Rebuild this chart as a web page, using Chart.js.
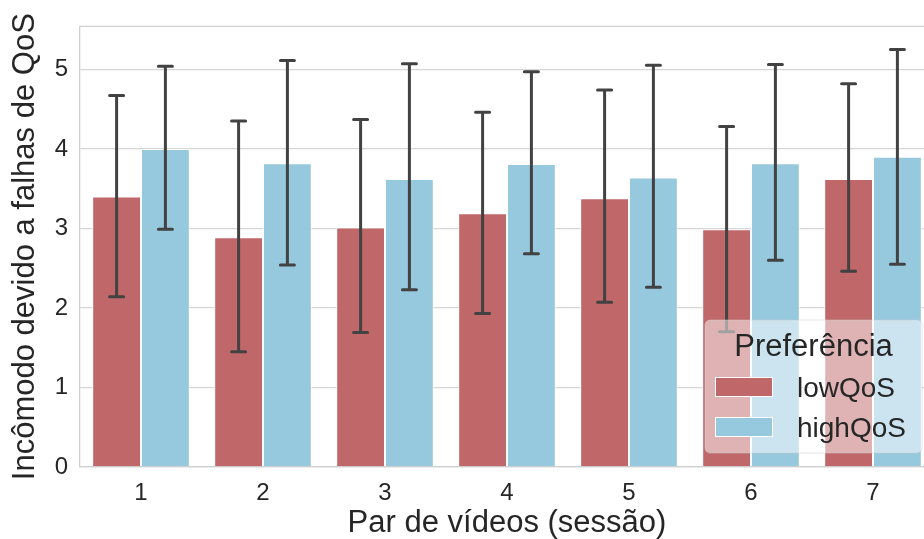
<!DOCTYPE html>
<html>
<head>
<meta charset="utf-8">
<script src="https://cdn.jsdelivr.net/npm/chart.js@4.4.1/dist/chart.umd.min.js"></script>
<style>
    html, body { margin: 0; padding: 0; background: #fff; overflow: hidden; }
    #wrap { position: relative; width: 934px; height: 539px; }
</style>
</head>
<body>
<div id="wrap"><canvas id="myChart"></canvas></div>
<script>
const sessions = ['1', '2', '3', '4', '5', '6', '7'];

const lowQoS  = [3.40, 2.89, 3.01, 3.19, 3.38, 2.99, 3.62];
const highQoS = [4.00, 3.82, 3.62, 3.81, 3.64, 3.82, 3.90];

// error bar ends (lower / upper)
const lowQoSMin  = [2.14, 1.45, 1.69, 1.93, 2.07, 1.70, 2.46];
const lowQoSMax  = [4.67, 4.35, 4.37, 4.46, 4.74, 4.28, 4.82];
const highQoSMin = [2.99, 2.54, 2.23, 2.68, 2.26, 2.60, 2.55];
const highQoSMax = [5.04, 5.11, 5.07, 4.97, 5.05, 5.06, 5.25];

const yTicks = [0, 1, 2, 3, 4, 5];

const legendTitle = 'Preferência';
const seriesNames = ['lowQoS', 'highQoS'];
const colors = ['#bf6769', '#96c8de'];

const FONT = '"Liberation Sans", Arial, sans-serif';
const TEXT = '#262626';

const errorBars = {
    id: 'errorBars',
    afterDatasetsDraw(chart) {
        const ctx = chart.ctx;
        const y = chart.scales.y;
        const ranges = [[lowQoSMin, lowQoSMax], [highQoSMin, highQoSMax]];
        ctx.save();
        ctx.strokeStyle = '#424242';
        ctx.lineWidth = 3;
        ranges.forEach((r, d) => {
            chart.getDatasetMeta(d).data.forEach((bar, i) => {
                const top = y.getPixelForValue(r[1][i]);
                const bot = y.getPixelForValue(r[0][i]);
                ctx.lineCap = 'butt';
                ctx.beginPath();
                ctx.moveTo(bar.x, top);
                ctx.lineTo(bar.x, bot);
                ctx.stroke();
                ctx.lineCap = 'round';
                ctx.beginPath();
                ctx.moveTo(bar.x - 7, top);
                ctx.lineTo(bar.x + 7, top);
                ctx.moveTo(bar.x - 7, bot);
                ctx.lineTo(bar.x + 7, bot);
                ctx.stroke();
            });
        });
        ctx.restore();
    }
};

const frameAndLegend = {
    id: 'frameAndLegend',
    beforeDatasetsDraw(chart) {
        const a = chart.chartArea;
        const ctx = chart.ctx;
        ctx.save();
        ctx.strokeStyle = '#cfcfcf';
        ctx.lineWidth = 1.3;
        ctx.beginPath();
        ctx.moveTo(a.left, a.top);
        ctx.lineTo(a.right, a.top);
        ctx.stroke();
        ctx.restore();
    },
    afterDraw(chart) {
        const ctx = chart.ctx;
        const bx = 705, by = 320, bw = 217, bh = 133;
        ctx.save();
        ctx.beginPath();
        ctx.roundRect(bx, by, bw, bh, 5);
        ctx.fillStyle = 'rgba(255,255,255,0.5)';
        ctx.fill();
        ctx.strokeStyle = 'rgba(204,204,204,0.5)';
        ctx.lineWidth = 1;
        ctx.stroke();

        ctx.fillStyle = TEXT;
        ctx.font = '31px ' + FONT;
        ctx.textAlign = 'center';
        ctx.textBaseline = 'alphabetic';
        ctx.fillText(legendTitle, bx + bw / 2, 356);

        ctx.font = '28px ' + FONT;
        ctx.textAlign = 'left';
        const rows = [377, 417];
        seriesNames.forEach((name, i) => {
            ctx.fillStyle = colors[i];
            ctx.fillRect(715, rows[i], 58, 20);
            ctx.strokeStyle = '#ffffff';
            ctx.lineWidth = 1;
            ctx.strokeRect(715.5, rows[i] + 0.5, 57, 19);
            ctx.fillStyle = TEXT;
            ctx.fillText(name, 797, rows[i] + 20);
        });
        ctx.restore();
    }
};

const data = {
    labels: sessions,
    datasets: [
        {
            label: seriesNames[0],
            data: lowQoS,
            backgroundColor: colors[0],
            borderColor: '#ffffff',
            borderWidth: 1,
            borderSkipped: 'start'
        },
        {
            label: seriesNames[1],
            data: highQoS,
            backgroundColor: colors[1],
            borderColor: '#ffffff',
            borderWidth: 1,
            borderSkipped: 'start'
        }
    ]
};

const config = {
    type: 'bar',
    data: data,
    options: {
        responsive: true,
        maintainAspectRatio: false,
        animation: false,
        layout: { padding: { top: 25, right: 0, left: 0, bottom: 0 } },
        datasets: {
            bar: { categoryPercentage: 0.8, barPercentage: 1.0 }
        },
        plugins: {
            legend: { display: false },
            tooltip: { enabled: false }
        },
        scales: {
            x: {
                grid: { display: false, drawTicks: false },
                border: { display: true, color: '#cfcfcf', width: 1.3 },
                ticks: { color: TEXT, font: { family: FONT, size: 24 }, padding: 12 },
                title: {
                    display: true,
                    text: 'Par de vídeos (sessão)',
                    color: TEXT,
                    font: { family: FONT, size: 31, lineHeight: 1 },
                    padding: { top: 0, bottom: 0 }
                },
                afterFit(scale) { scale.height = 72; }
            },
            y: {
                min: 0,
                max: 5.54,
                afterBuildTicks(scale) {
                    scale.ticks = yTicks.map(v => ({ value: v }));
                },
                grid: { color: '#d6d6d6', lineWidth: 1.3, drawTicks: false },
                border: { display: true, color: '#cfcfcf', width: 1.3 },
                ticks: { color: TEXT, font: { family: FONT, size: 24 }, padding: 12 },
                title: {
                    display: true,
                    text: 'Incômodo devido a falhas de QoS',
                    color: TEXT,
                    font: { family: FONT, size: 31, lineHeight: 1 },
                    padding: { top: 10, bottom: 0 }
                },
                afterFit(scale) { scale.width = 80; }
            }
        }
    },
    plugins: [frameAndLegend, errorBars]
};

const myChart = new Chart(
    document.getElementById('myChart'),
    config
);
</script>
</body>
</html>
